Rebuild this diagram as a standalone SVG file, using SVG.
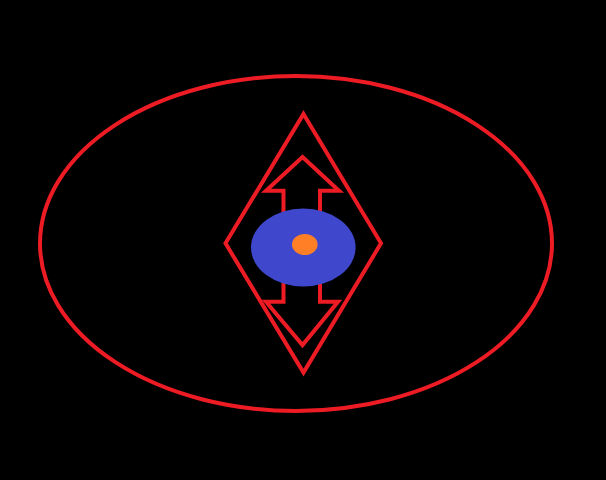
<svg xmlns="http://www.w3.org/2000/svg" width="606" height="480" viewBox="0 0 606 480">
<style>
.red{fill:none;stroke:#ED1C24;stroke-width:4;stroke-linejoin:miter}
</style>
<rect x="0" y="0" width="606" height="480" fill="#000"/>
<g id="outer-ellipse"><ellipse class="red" cx="296" cy="243.5" rx="256" ry="167.5"/></g>
<g id="diamond"><polygon class="red" points="303.5,114 381,243.3 303.5,372.5 225.5,243.3"/></g>
<g id="double-arrow"><polygon class="red" points="302.5,157 339,190.7 320,190.7 320,301.7 338,301.7 302.5,345 266,301.7 283.5,301.7 283.5,190.7 266,190.7"/></g>
<g id="blue-ellipse"><ellipse cx="303.3" cy="247.5" rx="52.3" ry="39" fill="#3F48CC"/></g>
<g id="orange-ellipse"><ellipse cx="304.8" cy="244.5" rx="12.8" ry="10.5" fill="#FF7F27"/></g>
</svg>
